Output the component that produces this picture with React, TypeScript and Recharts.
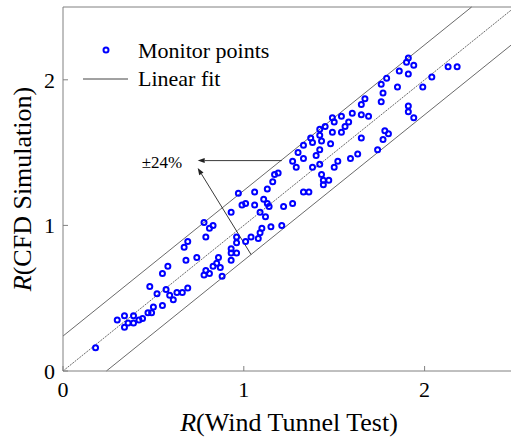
import React from 'react';
import { ScatterChart, Scatter, XAxis, YAxis, ReferenceLine, ReferenceDot, Legend } from 'recharts';

// R values, one entry per monitor point
const windTunnel = [
  0.18, 0.30, 0.34, 0.34, 0.36, 0.39, 0.39, 0.42, 0.44, 0.47, 0.49, 0.50, 0.55, 0.48, 0.52,
  0.55, 0.57, 0.58, 0.59, 0.61, 0.63, 0.66, 0.69, 0.68, 0.74, 0.67, 0.69, 0.78, 0.81, 0.83,
  0.79, 0.78, 0.79, 0.81, 0.83, 0.85, 0.86, 0.87, 0.88, 0.93, 0.93, 0.93, 0.96, 0.93, 0.96,
  0.96, 0.99, 1.01, 1.04, 1.06, 1.08, 1.09, 1.12, 1.09, 1.10, 1.15, 1.21, 1.11, 1.13, 1.14,
  1.22, 1.27, 1.06, 0.97, 1.01, 1.13, 1.16, 1.17, 1.19, 1.27, 1.29, 1.30, 1.33, 1.33, 1.36,
  1.38, 1.40, 1.33, 1.37, 1.38, 1.42, 1.42, 1.43, 1.42, 1.42, 1.45, 1.48, 1.49, 1.54, 1.49,
  1.54, 1.50, 1.56, 1.58, 1.60, 1.65, 1.65, 1.69, 1.65, 1.63, 1.59, 1.52, 1.50, 1.43, 1.44,
  1.47, 1.44, 1.74, 1.67, 1.76, 1.77, 1.76, 1.79, 1.85, 1.86, 1.90, 1.91, 1.94, 1.91, 1.99,
  2.04, 2.13, 2.18, 1.91, 1.91, 1.94, 1.78, 1.80, 1.77,
];
const cfdSim = [
  0.16, 0.35, 0.38, 0.30, 0.33, 0.38, 0.33, 0.35, 0.36, 0.40, 0.40, 0.44, 0.45, 0.58, 0.53,
  0.67, 0.56, 0.72, 0.52, 0.49, 0.54, 0.54, 0.57, 0.76, 0.78, 0.85, 0.89, 1.02, 0.98, 1.00,
  0.92, 0.66, 0.69, 0.67, 0.72, 0.74, 0.78, 0.71, 0.65, 1.09, 0.84, 0.81, 0.81, 0.76, 0.92,
  0.88, 1.14, 0.89, 0.92, 1.14, 0.91, 1.09, 1.06, 0.95, 0.98, 0.99, 1.00, 1.18, 1.15, 1.13,
  1.13, 1.15, 1.23, 1.22, 1.15, 1.25, 1.30, 1.35, 1.36, 1.44, 1.40, 1.50, 1.46, 1.23, 1.23,
  1.40, 1.48, 1.55, 1.60, 1.57, 1.42, 1.52, 1.58, 1.62, 1.66, 1.68, 1.56, 1.64, 1.64, 1.74,
  1.75, 1.71, 1.68, 1.71, 1.77, 1.83, 1.76, 1.75, 1.60, 1.49, 1.46, 1.44, 1.40, 1.35, 1.31,
  1.31, 1.28, 1.52, 1.87, 1.85, 1.91, 1.97, 2.01, 1.95, 2.06, 2.12, 2.15, 2.10, 2.04, 1.95,
  2.02, 2.09, 2.09, 1.82, 1.78, 1.74, 1.65, 1.63, 1.59,
];

const bandOffset = 0.24;
const axisMax = 2.5;
const xTicks = [0, 1, 2];
const yTicks = [0, 1, 2];
const legendLabels = ['Monitor points', 'Linear fit'];
const bandLabel = '\u00b124%';
const bandLabelAt = { x: 0.435, y: 1.395 };
// arrows: [start, tip] in data units
const arrows = [
  [{ x: 1.21, y: 1.445 }, { x: 0.745, y: 1.445 }],
  [{ x: 1.04, y: 0.80 }, { x: 0.745, y: 1.395 }],
];

const points = windTunnel.map((x, i) => ({ x, y: cfdSim[i] }));

const FONT = 'Liberation Serif';
const AXIS = '#808080';
const LINE = '#444';
const BLUE = '#0000ff';

const Ring = (p: any) => (
  <circle cx={p.cx} cy={p.cy} r={2.5} fill="none" stroke={BLUE} strokeWidth={2} />
);

const Arrow = (p: any) => {
  const { x1, y1, x2, y2 } = p;
  const a = Math.atan2(y2 - y1, x2 - x1);
  const len = 7;
  const w = 2.5;
  const bx = x2 - len * Math.cos(a);
  const by = y2 - len * Math.sin(a);
  const pts = `${x2},${y2} ${bx - w * Math.sin(a)},${by + w * Math.cos(a)} ${bx + w * Math.sin(a)},${by - w * Math.cos(a)}`;
  return (
    <g>
      <line x1={x1} y1={y1} x2={bx} y2={by} stroke="#222" strokeWidth={0.9} />
      <polygon points={pts} fill="#222" />
    </g>
  );
};

const BandText = (p: any) => (
  <text x={p.cx} y={p.cy} fontFamily={FONT} fontSize={17} fill="#000">{bandLabel}</text>
);

const XTitle = (p: any) => {
  const vb = p.viewBox;
  return (
    <text x={vb.x + vb.width / 2} y={vb.y + 60} textAnchor="middle" fontFamily={FONT} fontSize={26} fill="#000">
      <tspan fontStyle="italic">R</tspan>
      <tspan>(Wind Tunnel Test)</tspan>
    </text>
  );
};

const YTitle = (p: any) => {
  const vb = p.viewBox;
  const cx = 31;
  const cy = vb.y + vb.height / 2;
  return (
    <text x={cx} y={cy} transform={`rotate(-90 ${cx} ${cy})`} textAnchor="middle" fontFamily={FONT} fontSize={26} fill="#000">
      <tspan fontStyle="italic">R</tspan>
      <tspan>(CFD Simulation)</tspan>
    </text>
  );
};

const LegendBox = () => (
  <svg width={300} height={100} style={{ overflow: 'visible' }}>
    <circle cx={106} cy={50} r={2.5} fill="none" stroke={BLUE} strokeWidth={2} />
    <text x={138} y={58} fontFamily={FONT} fontSize={22} fill="#000">{legendLabels[0]}</text>
    <line x1={83} y1={79} x2={128} y2={79} stroke={LINE} strokeWidth={1} />
    <text x={138} y={86} fontFamily={FONT} fontSize={22} fill="#000">{legendLabels[1]}</text>
  </svg>
);

const tickStyle = { fontSize: 22, fill: '#000', fontFamily: FONT };

export default function App() {
  return (
    <div style={{ position: 'absolute', left: 0, top: 0, width: 511, height: 441, overflow: 'hidden', background: '#fff', fontFamily: FONT }}>
      <ScatterChart width={516} height={441} margin={{ top: 7, right: 1, bottom: 0, left: 0 }}>
        <XAxis
          type="number"
          dataKey="x"
          domain={[0, axisMax]}
          ticks={xTicks}
          allowDataOverflow
          height={70}
          stroke={AXIS}
          tickSize={-5}
          tickMargin={15}
          tick={tickStyle}
          label={<XTitle />}
        />
        <YAxis
          type="number"
          dataKey="y"
          domain={[0, axisMax]}
          ticks={yTicks}
          allowDataOverflow
          width={63}
          stroke={AXIS}
          tickSize={-5}
          tickMargin={13}
          tick={tickStyle}
          label={<YTitle />}
        />
        <ReferenceLine y={axisMax} stroke={AXIS} />
        <ReferenceLine x={axisMax} stroke={AXIS} />
        <ReferenceLine segment={[{ x: 0, y: bandOffset }, { x: axisMax - bandOffset, y: axisMax }]} stroke={LINE} strokeWidth={0.8} />
        <ReferenceLine segment={[{ x: 0, y: 0 }, { x: axisMax, y: axisMax }]} stroke={LINE} strokeWidth={0.8} strokeDasharray="2 1" />
        <ReferenceLine segment={[{ x: bandOffset, y: 0 }, { x: axisMax, y: axisMax - bandOffset }]} stroke={LINE} strokeWidth={0.8} />
        {arrows.map((seg, i) => (
          <ReferenceLine key={`arrow-${i}`} segment={seg} shape={Arrow} />
        ))}
        <ReferenceDot x={bandLabelAt.x} y={bandLabelAt.y} r={0} shape={BandText} />
        <Scatter data={points} shape={Ring} isAnimationActive={false} />
        <Legend
          layout="vertical"
          align="center"
          verticalAlign="middle"
          wrapperStyle={{ left: 0, top: 0, width: 300, height: 100, pointerEvents: 'none' }}
          content={() => <LegendBox />}
        />
      </ScatterChart>
    </div>
  );
}
